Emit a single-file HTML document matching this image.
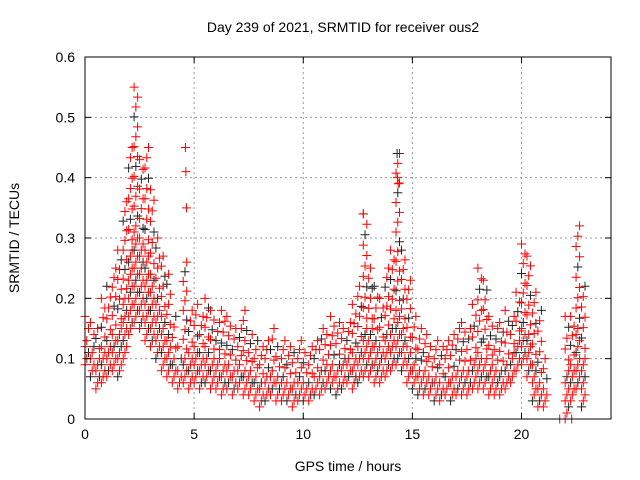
<!DOCTYPE html>
<html><head><meta charset="utf-8"><style>
html,body{margin:0;padding:0;background:#fff;}
svg{display:block;font-family:"Liberation Sans",sans-serif;}
</style></head><body>
<svg id="chart" width="640" height="480">
<rect x="0" y="0" width="640" height="480" fill="#fff"/>
<g id="grid"></g>
<g id="points"></g>
<g id="axes"></g>
<text x="343" y="32" text-anchor="middle" font-size="14">Day 239 of 2021, SRMTID for receiver ous2</text>
<text x="348" y="471" text-anchor="middle" font-size="14">GPS time / hours</text>
<text transform="translate(19,238) rotate(-90)" text-anchor="middle" font-size="14">SRMTID / TECUs</text>
</svg>
<script>
const times=[0,0.25,0.5,0.75,1,1.25,1.5,1.75,2,2.25,2.5,2.75,3,3.25,3.5,3.75,4,4.25,4.5,4.75,5,5.25,5.5,5.75,6,6.25,6.5,6.75,7,7.25,7.5,7.75,8,8.25,8.5,8.75,9,9.25,9.5,9.75,10,10.25,10.5,10.75,11,11.25,11.5,11.75,12,12.25,12.5,12.75,13,13.25,13.5,13.75,14,14.25,14.5,14.75,15,15.25,15.5,15.75,16,16.25,16.5,16.75,17,17.25,17.5,17.75,18,18.25,18.5,18.75,19,19.25,19.5,19.75,20,20.25,20.5,20.75,21,22,22.25,22.5,22.75];
const lows=[.09,.07,.05,.06,.07,.08,.07,.10,.14,.16,.15,.13,.12,.10,.08,.07,.06,.05,.06,.05,.06,.05,.06,.05,.05,.04,.05,.04,.05,.04,.04,.03,.02,.03,.04,.03,.03,.03,.02,.03,.03,.03,.04,.04,.05,.05,.04,.05,.06,.05,.06,.07,.07,.06,.06,.07,.08,.09,.08,.06,.05,.04,.04,.04,.03,.03,.04,.03,.04,.04,.04,.05,.05,.05,.04,.04,.04,.05,.06,.08,.09,.07,.03,.02,.02,0,.03,.05,.02];
const mids=[.13,.12,.10,.12,.13,.14,.15,.20,.28,.32,.30,.28,.24,.20,.17,.14,.10,.08,.10,.11,.12,.11,.12,.10,.10,.09,.09,.08,.09,.08,.08,.07,.06,.07,.08,.07,.07,.06,.06,.07,.06,.06,.07,.08,.09,.09,.09,.10,.10,.11,.12,.15,.15,.13,.12,.14,.15,.18,.15,.12,.10,.08,.08,.07,.07,.06,.07,.07,.08,.08,.08,.10,.11,.10,.09,.08,.08,.09,.11,.13,.16,.14,.09,.06,.05,.08,.09,.15,.10];
const highs=[.17,.16,.15,.20,.22,.25,.28,.36,.45,.55,.43,.45,.38,.30,.27,.24,.17,.12,.26,.18,.19,.17,.20,.18,.16,.18,.17,.15,.15,.18,.14,.13,.12,.13,.15,.12,.13,.12,.11,.13,.11,.12,.13,.15,.14,.17,.16,.15,.16,.19,.22,.34,.25,.22,.20,.25,.28,.44,.28,.23,.17,.15,.14,.12,.13,.12,.13,.14,.15,.16,.15,.19,.25,.23,.17,.15,.16,.18,.17,.21,.29,.27,.21,.18,.10,.17,.17,.32,.22];
const spikeTimes=[4.6,4.62,4.65,12.75,14.3,14.32,14.35,21.75,22.3];
const spikeVals=[.45,.41,.35,.34,.44,.40,.39,0,0];
const xTicks=[0,5,10,15,20];
const yTicks=[0,0.1,0.2,0.3,0.4,0.5,0.6];

const NS="http://www.w3.org/2000/svg";
const L=85,R=611,T=57,B=419;
const xS=t=>L+t*(R-L)/24.1;
const yS=v=>B-v*(B-T)/0.6;
const grid=document.getElementById('grid'),axes=document.getElementById('axes'),pts=document.getElementById('points');
function mk(tag,attrs,parent){const e=document.createElementNS(NS,tag);for(const k in attrs)e.setAttribute(k,attrs[k]);parent.appendChild(e);return e;}
xTicks.forEach(t=>{
  const x=xS(t);
  if(t>0){const g=mk('line',{x1:x,y1:T,x2:x,y2:B,stroke:'#999','stroke-dasharray':'2,3'},grid);
  
  }
  mk('line',{x1:x,y1:B,x2:x,y2:B-6,stroke:'#000'},axes);
  mk('line',{x1:x,y1:T,x2:x,y2:T+6,stroke:'#000'},axes);
  const tx=mk('text',{x:x,y:B+20,'text-anchor':'middle','font-size':'14'},axes);tx.textContent=t;
  
  
});
yTicks.forEach(v=>{
  const y=yS(v);
  if(v>0&&v<0.6){const g=mk('line',{x1:L,y1:y,x2:R,y2:y,stroke:'#999','stroke-dasharray':'2,3'},grid);
  
  }
  mk('line',{x1:L,y1:y,x2:L+6,y2:y,stroke:'#000'},axes);
  mk('line',{x1:R,y1:y,x2:R-6,y2:y,stroke:'#000'},axes);
  const tx=mk('text',{x:L-10,y:y+5,'text-anchor':'end','font-size':'14'},axes);tx.textContent=v===0?'0':v.toFixed(1);
  
  
});
const fr=mk('rect',{x:L,y:T,width:R-L,height:B-T,fill:'none',stroke:'#000'},axes);


let n=0;
function cross(t,v){
  const x=xS(t),y=yS(v);
  const col=(n%5===2)?'#222':'#f00';n++;
  const p=mk('path',{d:`M${x-4.5},${y}h9M${x},${y-4.5}v9`,stroke:col,'stroke-width':'1',fill:'none'},pts);
  
  
}
times.forEach((t,i)=>{
  const lo=lows[i],md=mids[i],hi=highs[i];
  const ylo=yS(lo),ymd=yS(md),yhi=yS(hi);
  // dense band lo->mid
  const n1=Math.max(1,Math.round((ylo-ymd)/6));
  for(let k=0;k<=n1;k++){const f=k/n1;const vv=lo+(md-lo)*f;cross(t+((k%3)*0.08),vv);}
  const n2=Math.max(1,Math.round((ymd-yhi)/10));
  for(let k=1;k<=n2;k++){const f=k/n2;const vv=md+(hi-md)*f;cross(t+(((k+1)%3)*0.08),vv);}
});
spikeTimes.forEach((t,i)=>cross(t,spikeVals[i]));
</script>
</body></html>
